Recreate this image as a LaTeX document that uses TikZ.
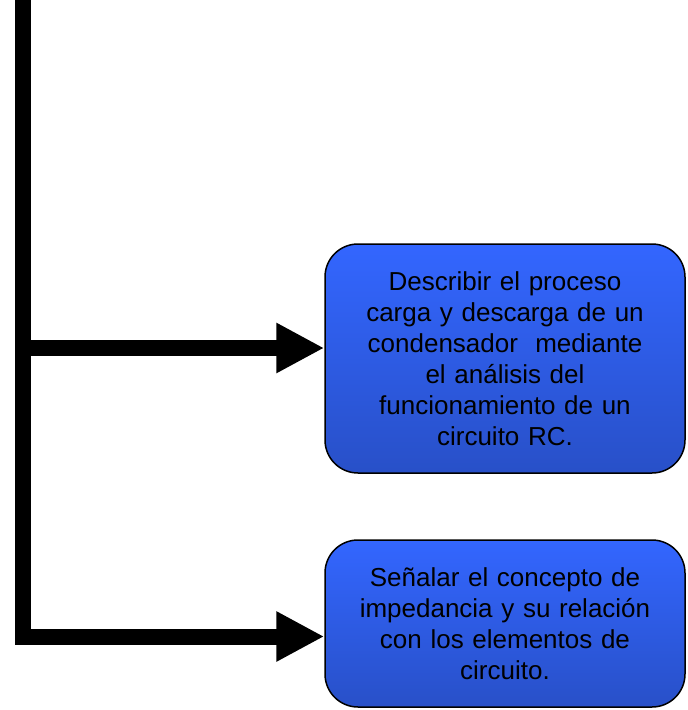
\documentclass[tikz,border=0pt]{standalone}
\usepackage{fontspec}
\setmainfont{Liberation Sans}
\usetikzlibrary{arrows.meta}
\definecolor{boxtop}{RGB}{51,102,255}
\definecolor{boxbot}{RGB}{40,80,200}
\tikzset{
  goalbox/.style={draw=black, line width=1.5pt, rounded corners=33pt,
    top color=boxtop, bottom color=boxbot, text=black,
    minimum width=360pt, text width=340pt, align=center, inner sep=0pt,
    font=\fontsize{26}{31}\selectfont},
  conn/.style={draw=black, line width=16pt, line join=miter},
  connarrow/.style={conn, -{Triangle[length=48pt,width=47pt]}}
}
\begin{document}
\begin{tikzpicture}[x=1pt,y=-1pt]
\useasboundingbox (0,0) rectangle (688,710);
\coordinate (ctop) at (22.5,0);
\coordinate (j1) at (22.5,348);
\coordinate (j2) at (22.5,636.5);
\node[goalbox, minimum height=229pt] (b1) at (505,358.5)
  {Describir el proceso\\carga y descarga de un\\condensador\ \ mediante\\el análisis del\\funcionamiento de un\\circuito RC.};
\node[goalbox, minimum height=167pt] (b2) at (505,623.5)
  {Señalar el concepto de\\impedancia y su relación\\con los elementos de\\circuito.};
\draw[connarrow] (ctop) -- (j2) -- (b2.west |- j2);
\draw[connarrow] (j1) -- (b1.west |- j1);
\end{tikzpicture}
\end{document}
